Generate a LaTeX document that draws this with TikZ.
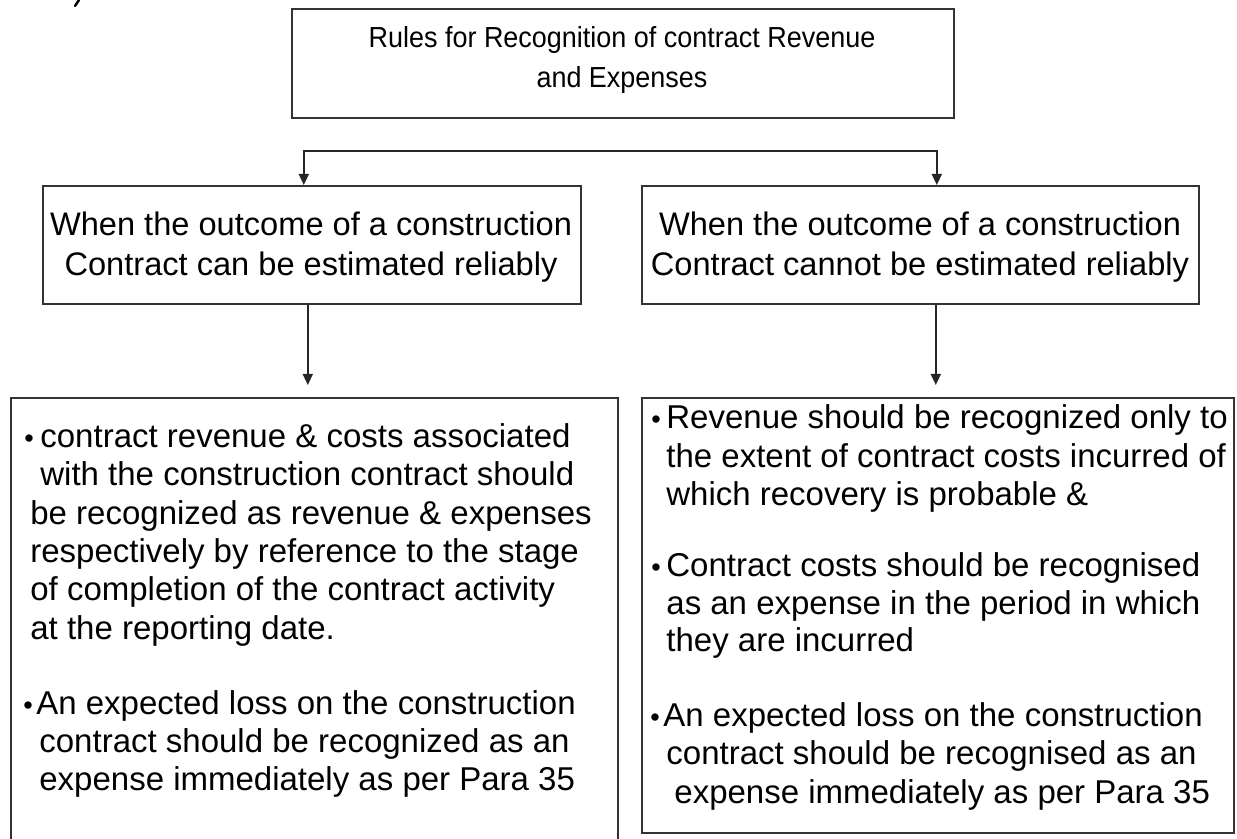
\documentclass[tikz,border=0pt]{standalone}
\usepackage{fontspec}
\setmainfont{Liberation Sans}
\newfontfamily\titlefont[FakeStretch=0.93]{Liberation Sans}
\usetikzlibrary{arrows.meta}
\begin{document}
\begin{tikzpicture}[x=0.5pt,y=-0.5pt,
  box/.style={draw=black!80, line width=0.8pt, inner sep=0pt, anchor=north west},
  conn/.style={draw=black!85, line width=0.8pt},
  arr/.style={conn, -{Triangle[width=5pt,length=5.5pt]}},
  ln/.style={anchor=base west, inner sep=0pt, font=\fontsize{16.5pt}{19pt}\selectfont},
  bul/.style={anchor=base, inner sep=0pt, font=\fontsize{13.5pt}{13.5pt}\selectfont},
  hd/.style={anchor=base, inner sep=0pt, font=\fontsize{16.3pt}{20pt}\selectfont},
  tt/.style={anchor=base, inner sep=0pt, font=\titlefont\fontsize{14.5pt}{20pt}\selectfont},
]
\useasboundingbox[fill=white] (0,0) rectangle (1237,839);
\clip (0,0) rectangle (1237,839);

% small stroke at the top-left corner
\draw[line width=1.2pt, line cap=round] (79,0) -- (75,6);

% boxes
\node[box, minimum width=331pt, minimum height=54.5pt] (top) at (291,8) {};
\node[box, minimum width=269pt, minimum height=59pt] (ml) at (42,185) {};
\node[box, minimum width=278.5pt, minimum height=59pt] (mr) at (641,185) {};
\node[box, minimum width=303.5pt, minimum height=224pt] (bl) at (10,397) {};
\node[box, minimum width=296pt, minimum height=217.5pt] (br) at (641,397) {};

% title
\node[tt] (t1) at (622,48) {Rules for Recognition of contract Revenue};
\node[tt] (t2) at (622,88) {and Expenses};

% branch headings
\node[hd] (ml1) at (311,236) {When the outcome of a construction};
\node[hd] (ml2) at (311,276) {Contract can be estimated reliably};
\node[hd] (mr1) at (920,236) {When the outcome of a construction};
\node[hd] (mr2) at (920,276) {Contract cannot be estimated reliably};

% left rules
\node[bul] (a1b) at (29,448) {\textbullet};
\node[ln] (a1) at (40,448) {contract revenue \& costs associated};
\node[ln] (a2) at (40,486) {with the construction contract should};
\node[ln] (a3) at (30,524) {be recognized as revenue \& expenses};
\node[ln] (a4) at (30,562) {respectively by reference to the stage};
\node[ln] (a5) at (30,600) {of completion of the contract activity};
\node[ln] (a6) at (30,639) {at the reporting date.};
\node[bul] (a7b) at (28,714) {\textbullet};
\node[ln] (a7) at (36,714) {An expected loss on the construction};
\node[ln] (a8) at (39,752) {contract should be recognized as an};
\node[ln] (a9) at (39,790) {expense immediately as per Para 35};

% right rules
\node[bul] (b1b) at (656,429) {\textbullet};
\node[ln] (b1) at (666,429) {Revenue should be recognized only to};
\node[ln] (b2) at (666,467) {the extent of contract costs incurred of};
\node[ln] (b3) at (666,505) {which recovery is probable \&};
\node[bul] (b4b) at (656,576) {\textbullet};
\node[ln] (b4) at (666,576) {Contract costs should be recognised};
\node[ln] (b5) at (666,614) {as an expense in the period in which};
\node[ln] (b6) at (666,651) {they are incurred};
\node[bul] (b7b) at (655,726) {\textbullet};
\node[ln] (b7) at (663,726) {An expected loss on the construction};
\node[ln] (b8) at (666,764) {contract should be recognised as an};
\node[ln] (b9) at (674,803) {expense immediately as per Para 35};

% connectors
\coordinate (barL) at ([xshift=-4pt]ml.north |- 0,151);
\coordinate (barR) at ([xshift=8.25pt]mr.north |- 0,151);
\draw[conn, {Triangle[width=5pt,length=5.5pt]}-{Triangle[width=5pt,length=5.5pt]}]
  (barL |- ml.north) -- (barL) -- (barR) -- (barR |- mr.north);
\draw[arr, shorten >=6pt] ([xshift=-2pt]ml.south) -- ([xshift=-2pt]ml.south |- bl.north);
\draw[arr, shorten >=6pt] ([xshift=7.75pt]mr.south) -- ([xshift=7.75pt]mr.south |- br.north);
\end{tikzpicture}
\end{document}
